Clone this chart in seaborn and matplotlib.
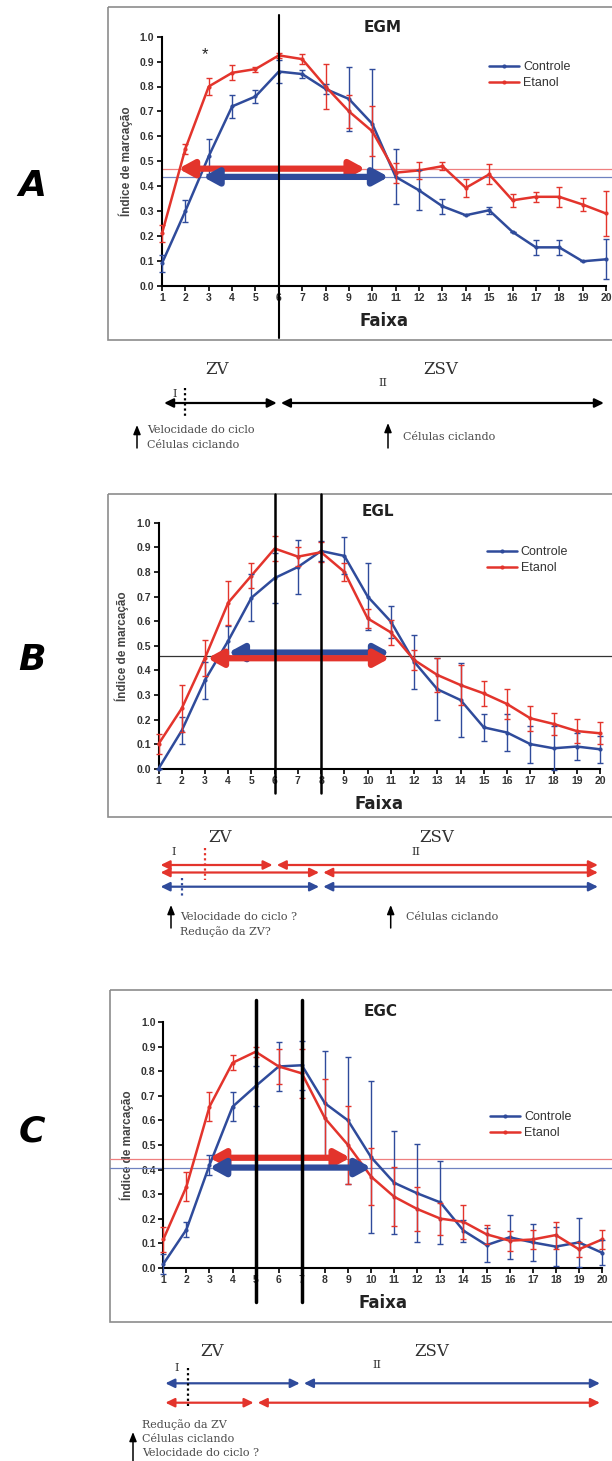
import numpy as np
import pandas as pd
import seaborn as sns
import matplotlib.pyplot as plt
from matplotlib.patches import FancyArrowPatch, Rectangle
from matplotlib.transforms import blended_transform_factory

### data ###

faixa = list(range(1, 21))

# EGM
egm_controle = [0.09, 0.30, 0.52, 0.72, 0.76, 0.86, 0.85, 0.79, 0.75, 0.65,
                0.437, 0.383, 0.319, 0.283, 0.303, 0.216, 0.154, 0.154, 0.098, 0.106]
egm_controle_err = [0.035, 0.045, 0.07, 0.045, 0.025, 0.045, 0.015, 0.02, 0.13, 0.22,
                    0.11, 0.08, 0.03, 0.0, 0.015, 0.0, 0.03, 0.03, 0.0, 0.08]
egm_etanol = [0.21, 0.55, 0.80, 0.855, 0.87, 0.925, 0.91, 0.80, 0.70, 0.62,
              0.454, 0.463, 0.48, 0.393, 0.447, 0.343, 0.357, 0.357, 0.326, 0.29]
egm_etanol_err = [0.035, 0.02, 0.035, 0.03, 0.01, 0.01, 0.02, 0.09, 0.065, 0.10,
                  0.04, 0.035, 0.015, 0.035, 0.04, 0.025, 0.02, 0.04, 0.025, 0.09]

# EGL
egl_controle = [0.0, 0.155, 0.36, 0.52, 0.695, 0.775, 0.82, 0.885, 0.865, 0.70,
                0.598, 0.435, 0.323, 0.279, 0.168, 0.147, 0.10, 0.083, 0.09, 0.079]
egl_controle_err = [0.0, 0.055, 0.075, 0.06, 0.095, 0.10, 0.11, 0.04, 0.075, 0.135,
                    0.065, 0.11, 0.125, 0.15, 0.055, 0.075, 0.075, 0.09, 0.055, 0.055]
egl_etanol = [0.10, 0.245, 0.45, 0.675, 0.785, 0.895, 0.862, 0.88, 0.80, 0.611,
              0.554, 0.442, 0.381, 0.34, 0.306, 0.263, 0.205, 0.182, 0.153, 0.144]
egl_etanol_err = [0.04, 0.095, 0.075, 0.09, 0.05, 0.05, 0.04, 0.04, 0.035, 0.04,
                  0.05, 0.04, 0.07, 0.08, 0.05, 0.06, 0.05, 0.045, 0.05, 0.045]

# EGC
egc_controle = [0.015, 0.155, 0.418, 0.656, 0.74, 0.82, 0.825, 0.67, 0.60, 0.45,
                0.346, 0.303, 0.266, 0.151, 0.092, 0.124, 0.103, 0.086, 0.103, 0.061]
egc_controle_err = [0.04, 0.03, 0.04, 0.06, 0.08, 0.10, 0.10, 0.215, 0.26, 0.31,
                    0.21, 0.20, 0.17, 0.045, 0.07, 0.09, 0.075, 0.08, 0.10, 0.05]
egc_etanol = [0.115, 0.33, 0.656, 0.835, 0.88, 0.82, 0.792, 0.609, 0.50, 0.371,
              0.289, 0.239, 0.20, 0.187, 0.136, 0.11, 0.115, 0.133, 0.075, 0.115]
egc_etanol_err = [0.05, 0.06, 0.06, 0.03, 0.02, 0.07, 0.10, 0.16, 0.16, 0.115,
                  0.12, 0.09, 0.065, 0.07, 0.04, 0.04, 0.04, 0.055, 0.03, 0.04]

# half-max levels (thin lines) and the ranges above them (thick arrows)
egm_limiares = [0.47, 0.437]
egm_faixas = [(1.7, 9.7), (2.75, 10.7)]
egl_limiares = [0.46]
egl_faixas = [(4.0, 10.95), (3.1, 10.95)]
egl_faixas_y = [0.472, 0.449]
egc_limiares = [0.443, 0.408]
egc_faixas = [(3.0, 9.1), (3.0, 10.0)]

# zone boundaries (vertical lines)
egm_divisas = [6]
egl_divisas = [6, 8]
egc_divisas = [5, 7]

# schematic zones, in Faixa units
egm_zonas = [[(1, 6), (6, 20)]]
egl_zonas = [[(1, 6), (6, 20)], [(1, 8), (8, 20)], [(1, 8), (8, 20)]]
egc_zonas = [[(1, 7), (7, 20)], [(1, 5), (5, 20)]]

######

BLUE = "#2f4b9b"
RED = "#e3342c"
BLUE_THIN = "#6f82c0"
RED_THIN = "#ef7f7f"
W, H = 612, 1461

sns.set_theme(style="ticks")
plt.rcParams['font.family'] = ['Liberation Sans', 'DejaVu Sans']

fig = plt.figure(figsize=(W / 100, H / 100), dpi=100)
over = fig.add_axes([0, 0, 1, 1], zorder=0)
over.set_xlim(0, W)
over.set_ylim(H, 0)
over.axis('off')


def fig_box(left, top, right, bottom):
    return [left / W, 1 - bottom / H, (right - left) / W, (bottom - top) / H]


panels = [
    dict(letter='A', letter_xy=(32, 186), title='EGM', title_xy=(383, 27),
         box=(162, 36.7, 606, 285.7), frame=(108, 7, 340),
         ctrl=egm_controle, ctrl_err=egm_controle_err,
         etoh=egm_etanol, etoh_err=egm_etanol_err,
         lim=list(zip(egm_limiares, [RED_THIN, BLUE_THIN])), lim_xmin=0.0,
         setas=[(egm_faixas[0], egm_limiares[0], RED), (egm_faixas[1], egm_limiares[1], BLUE)],
         divisas=egm_divisas, div_span=(15, 338), div_lw=1.5,
         legend_at=(0.737, 0.846),
         zonas=egm_zonas, zona_y=[403], zona_c=['black'],
         ZV=(217, 369), ZSV=(441, 369), I=(174.5, 394), II=(383, 382.5),
         pontilhado=[(2, 388, 418, 'black')],
         setas_up=[(137, 448, 425), (388, 448, 423)],
         notas=[(147, 430, 'Velocidade do ciclo'), (147, 445, 'Células ciclando'),
                (403, 437, 'Células ciclando')]),
    dict(letter='B', letter_xy=(32, 660), title='EGL', title_xy=(378, 512),
         box=(158.5, 522.7, 600, 768.7), frame=(108, 494, 817),
         ctrl=egl_controle, ctrl_err=egl_controle_err,
         etoh=egl_etanol, etoh_err=egl_etanol_err,
         lim=[(egl_limiares[0], '#333333')], lim_xmin=0.0,
         setas=[(egl_faixas[0], egl_faixas_y[0], BLUE), (egl_faixas[1], egl_faixas_y[1], RED)],
         divisas=egl_divisas, div_span=(494, 793), div_lw=1.8,
         legend_at=(0.744, 0.848),
         zonas=egl_zonas, zona_y=[865, 872.5, 886.7], zona_c=[RED, RED, BLUE],
         ZV=(220, 838), ZSV=(437, 838), I=(174, 852), II=(416, 852),
         pontilhado=[(3, 848, 880, RED), (2, 878, 898, BLUE)],
         setas_up=[(171, 928, 905), (390.7, 928, 905)],
         notas=[(180, 916.7, 'Velocidade do ciclo ?'), (180, 932, 'Redução da ZV?'),
                (406, 916.7, 'Células ciclando')]),
    dict(letter='C', letter_xy=(32, 1132), title='EGC', title_xy=(381, 1012),
         box=(163.3, 1022.3, 602, 1267.7), frame=(110, 990, 1322),
         ctrl=egc_controle, ctrl_err=egc_controle_err,
         etoh=egc_etanol, etoh_err=egc_etanol_err,
         lim=list(zip(egc_limiares, [RED_THIN, BLUE_THIN])), lim_xmin=-0.121,
         setas=[(egc_faixas[0], egc_limiares[0] + 0.005, RED), (egc_faixas[1], egc_limiares[1], BLUE)],
         divisas=egc_divisas, div_span=(1000, 1302), div_lw=2.5,
         legend_at=(0.745, 0.581),
         zonas=egc_zonas, zona_y=[1383.3, 1402.7], zona_c=[BLUE, RED],
         ZV=(212, 1351), ZSV=(432, 1351), I=(176.7, 1368), II=(376.7, 1365),
         pontilhado=[(2.05, 1368, 1408, 'black')],
         setas_up=[(133, 1461, 1432)],
         notas=[(141.7, 1425, 'Redução da ZV'), (141.7, 1439, 'Células ciclando'),
                (141.7, 1453, 'Velocidade do ciclo ?')]),
]

for p in panels:
    left, top, right, bottom = p['box']
    ax = fig.add_axes(fig_box(left, top, right, bottom), zorder=2)
    ax.set_facecolor('none')

    df = pd.DataFrame({
        'Faixa': faixa * 2,
        'Indice': p['ctrl'] + p['etoh'],
        'Grupo': ['Controle'] * 20 + ['Etanol'] * 20,
    })
    sns.lineplot(data=df, x='Faixa', y='Indice', hue='Grupo',
                 palette={'Controle': BLUE, 'Etanol': RED},
                 marker='o', markersize=3, markeredgewidth=0,
                 linewidth=1.8, ax=ax, clip_on=False, zorder=3)
    ax.errorbar(faixa, p['ctrl'], yerr=p['ctrl_err'], fmt='none', ecolor=BLUE,
                elinewidth=1, capsize=2.5, capthick=1, clip_on=False, zorder=3)
    ax.errorbar(faixa, p['etoh'], yerr=p['etoh_err'], fmt='none', ecolor=RED,
                elinewidth=1, capsize=2.5, capthick=1, clip_on=False, zorder=3)

    xmax_edge = (W - left) / (right - left)
    for val, c in p['lim']:
        ax.axhline(val, xmin=p['lim_xmin'], xmax=xmax_edge, color=c, lw=0.9,
                   clip_on=False, zorder=2)

    for (x0, x1), y, c in p['setas']:
        ax.add_patch(FancyArrowPatch((x0, y), (x1, y),
                                     arrowstyle='<|-|>,head_length=0.55,head_width=0.3',
                                     mutation_scale=16, lw=4.5, color=c,
                                     shrinkA=0, shrinkB=0, clip_on=False, zorder=4))

    bt = blended_transform_factory(ax.transData, over.transData)
    for x in p['divisas']:
        ax.plot([x, x], p['div_span'], transform=bt, color='black',
                lw=p['div_lw'], clip_on=False, zorder=6)

    ax.set_xlim(1, 20)
    ax.set_ylim(0, 1.0)
    ax.set_xticks(faixa)
    ax.set_yticks(np.arange(0, 1.01, 0.1))
    ax.set_yticklabels([f"{v:.1f}" for v in np.arange(0, 1.01, 0.1)])
    ax.tick_params(length=3.5, width=1.2, labelsize=7.5, pad=2, colors='black',
                   labelcolor='#333333')
    for lbl in ax.get_xticklabels() + ax.get_yticklabels():
        lbl.set_fontweight('bold')
    sns.despine(ax=ax)
    for s in ['left', 'bottom']:
        ax.spines[s].set_linewidth(1.5)
        ax.spines[s].set_color('black')
    ax.set_ylabel('Índice de marcação', fontsize=8.5, fontweight='bold',
                  color='#444444', labelpad=5)
    ax.set_xlabel('Faixa', fontsize=12, fontweight='bold', color='#222222',
                  labelpad=6, family=['DejaVu Sans'])

    sns.move_legend(ax, 'center left', bbox_to_anchor=p['legend_at'], title=None,
                    frameon=False, fontsize=9, handlelength=2.4, handletextpad=0.3,
                    borderaxespad=0, borderpad=0, labelspacing=0.3)
    for t in ax.get_legend().get_texts():
        t.set_color('#333333')

    if p['letter'] == 'A':
        ax.text(2.82, 0.93, '*', fontsize=12, ha='center', va='center', color='#222222')

    # frame, letter, title
    fl, ft, fb = p['frame']
    over.add_patch(Rectangle((fl, ft), W + 50 - fl, fb - ft, fill=False,
                             edgecolor='#8c8c8c', lw=1.2, clip_on=False))
    over.text(*p['letter_xy'], p['letter'], fontsize=26, fontweight='bold',
              fontstyle='italic', ha='center', va='center', color='black',
              family=['DejaVu Sans'])
    over.text(*p['title_xy'], p['title'], fontsize=11, fontweight='bold',
              ha='center', va='center', color='#222222', family=['DejaVu Sans'])

    # schematic under the chart
    for segs, y, c in zip(p['zonas'], p['zona_y'], p['zona_c']):
        for x0, x1 in segs:
            over.add_patch(FancyArrowPatch((x0, y), (x1, y), transform=bt,
                                           arrowstyle='<|-|>,head_length=0.45,head_width=0.22',
                                           mutation_scale=12, lw=1.6, color=c,
                                           shrinkA=1.5, shrinkB=1.5, clip_on=False))
    for x, y0, y1, c in p['pontilhado']:
        over.plot([x, x], [y0, y1], transform=bt, color=c, lw=1.6,
                  dashes=(1, 1.3), clip_on=False)
    serif = ['DejaVu Serif']
    over.text(*p['ZV'], 'ZV', fontsize=12, ha='center', va='center', color='#333333', family=serif)
    over.text(*p['ZSV'], 'ZSV', fontsize=12, ha='center', va='center', color='#333333', family=serif)
    over.text(*p['I'], 'I', fontsize=8, ha='center', va='center', color='#333333', family=serif)
    over.text(*p['II'], 'II', fontsize=8, ha='center', va='center', color='#333333', family=serif)
    for x, yb, yt in p['setas_up']:
        over.annotate('', xy=(x, yt), xytext=(x, yb),
                      arrowprops=dict(arrowstyle='-|>,head_length=0.45,head_width=0.18',
                                      lw=1.1, color='black', shrinkA=0, shrinkB=0),
                      annotation_clip=False)
    for x, y, s in p['notas']:
        over.text(x, y, s, fontsize=8, ha='left', va='center', color='#4a4a4a',
                  family=serif)

fig.savefig('out.png', dpi=100)
